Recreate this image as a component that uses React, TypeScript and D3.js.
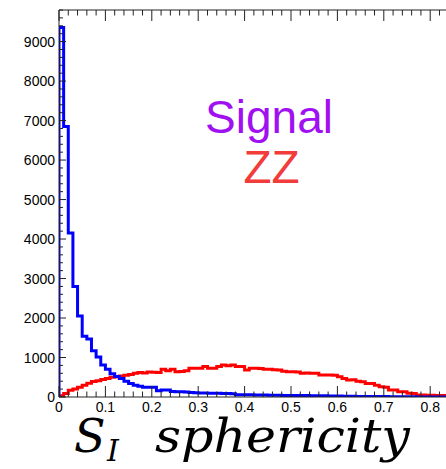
import React, { useEffect } from "react";
import * as d3 from "d3";

// bin width 0.01, bins start at 0
const binWidth = 0.01;
const signalValues = [
  9360, 6850, 4150, 2800, 2050, 1540, 1470, 1170, 1010, 810,
  700, 590, 520, 470, 400, 340, 300, 270, 250, 250,
  250, 160, 180, 180, 140, 135, 130, 125, 115, 110,
  100, 100, 95, 95, 95, 90, 90, 80, 60, 60,
  55, 55, 50, 50, 50, 45, 45, 45, 40, 40,
  40, 35, 35, 35, 30, 30, 30, 30, 25, 25,
  25, 20, 20, 20, 15, 15, 15, 12, 12, 10,
  10, 8, 8, 6, 6, 5, 4, 3, 2, 2,
  1, 1, 0, 0, 0, 0, 0, 0, 0, 0,
];
const zzValues = [
  30, 90, 170, 200, 250, 300, 350, 390, 410, 440,
  470, 500, 510, 530, 550, 570, 600, 620, 610, 630,
  625, 620, 700, 665, 700, 640, 645, 665, 725, 730,
  725, 770, 725, 730, 770, 810, 790, 810, 770, 775,
  685, 725, 725, 720, 700, 700, 690, 685, 650, 640,
  640, 635, 600, 605, 600, 600, 560, 555, 557, 550,
  515, 470, 430, 435, 400, 385, 345, 340, 300, 260,
  250, 180, 175, 135, 130, 95, 90, 50, 50, 45,
  45, 40, 40, 35, 35, 30, 25, 20, 15, 10,
];
const yMajorTicks = [0, 1000, 2000, 3000, 4000, 5000, 6000, 7000, 8000, 9000];
const xMajorTicks = [0, 0.1, 0.2, 0.3, 0.4, 0.5, 0.6, 0.7, 0.8];
const xTickLabels = ["0", "0.1", "0.2", "0.3", "0.4", "0.5", "0.6", "0.7", "0.8"];
const signalLabel = "Signal";
const zzLabel = "ZZ";

const W = 446;
const H = 469;
const left = 59;
const top = 10;
const bottom = 397;

export default function App() {
  useEffect(() => {
    document.body.style.margin = "0";
  }, []);

  const x = d3.scaleLinear().domain([0, 1]).range([left, left + 464]);
  const y = d3.scaleLinear().domain([0, 9800]).range([bottom, top]);

  const stepPoints = (vals: number[]): [number, number][] => {
    const pts: [number, number][] = [[x(0), y(0)]];
    vals.forEach((v, i) => {
      pts.push([x(i * binWidth), y(v)]);
      pts.push([x((i + 1) * binWidth), y(v)]);
    });
    return pts;
  };
  const line = d3.line<[number, number]>();

  const yMinor = d3.range(0, 9801, 200).filter((v) => v % 1000 !== 0);
  const xMinor = d3.range(0, 101, 2).map((v) => v / 100).filter((v) => Math.round(v * 100) % 10 !== 0);
  const sans = "'Liberation Sans', Arial, Helvetica, sans-serif";
  const serif = "'DejaVu Serif', 'Liberation Serif', serif";
  const axisColor = "#222";

  return (
    <svg width={W} height={H} style={{ display: "block", background: "#fff" }}>
      <defs>
        <clipPath id="plot">
          <rect x={left} y={top} width={W - left} height={bottom - top} />
        </clipPath>
      </defs>
      <g clipPath="url(#plot)">
        <path d={line(stepPoints(zzValues)) || ""} fill="none" stroke="#ff0000" strokeWidth={3} />
        <path d={line(stepPoints(signalValues)) || ""} fill="none" stroke="#0000ff" strokeWidth={3} />
      </g>
      {/* frame */}
      <line x1={left} x2={left} y1={top} y2={bottom} stroke={axisColor} strokeWidth={1} />
      <line x1={left} x2={W} y1={bottom} y2={bottom} stroke={axisColor} strokeWidth={1} />
      <line x1={left} x2={W} y1={top} y2={top} stroke={axisColor} strokeWidth={1} />
      {/* y ticks */}
      {yMajorTicks.map((t) => (
        <g key={"ym" + t}>
          <line x1={left} x2={left + 7} y1={y(t)} y2={y(t)} stroke={axisColor} />
          <text x={55} y={y(t)} dy="0.36em" textAnchor="end" fontFamily={sans} fontSize={14} fill="#000">
            {t}
          </text>
        </g>
      ))}
      {yMinor.map((t) => (
        <line key={"yn" + t} x1={left} x2={left + 4} y1={y(t)} y2={y(t)} stroke={axisColor} />
      ))}
      {/* x ticks */}
      {xMajorTicks.map((t, i) => (
        <g key={"xm" + t}>
          <line x1={x(t)} x2={x(t)} y1={bottom} y2={bottom - 11} stroke={axisColor} />
          <line x1={x(t)} x2={x(t)} y1={top} y2={top + 11} stroke={axisColor} />
          <text x={x(t)} y={412} textAnchor="middle" fontFamily={sans} fontSize={14} fill="#000">
            {xTickLabels[i]}
          </text>
        </g>
      ))}
      {xMinor.map((t) => (
        <g key={"xn" + t}>
          <line x1={x(t)} x2={x(t)} y1={bottom} y2={bottom - 5.5} stroke={axisColor} />
          <line x1={x(t)} x2={x(t)} y1={top} y2={top + 5.5} stroke={axisColor} />
        </g>
      ))}
      {/* legend text */}
      <text x={269} y={133} textAnchor="middle" fontFamily={sans} fontSize={46} fill="#a010f0">
        {signalLabel}
      </text>
      <text x={271.5} y={183} textAnchor="middle" fontFamily={sans} fontSize={46} fill="#f23b3b">
        {zzLabel}
      </text>
      {/* x axis title */}
      <text x={74} y={452} fontFamily={serif} fontStyle="italic" fontSize={46} fill="#000">
        S
      </text>
      <text x={107} y={461} fontFamily={serif} fontStyle="italic" fontSize={30} fill="#000">
        I
      </text>
      <text
        x={155}
        y={452}
        fontFamily={serif}
        fontStyle="italic"
        fontSize={46}
        fill="#000"
        textLength={255}
        lengthAdjust="spacingAndGlyphs"
      >
        sphericity
      </text>
    </svg>
  );
}
